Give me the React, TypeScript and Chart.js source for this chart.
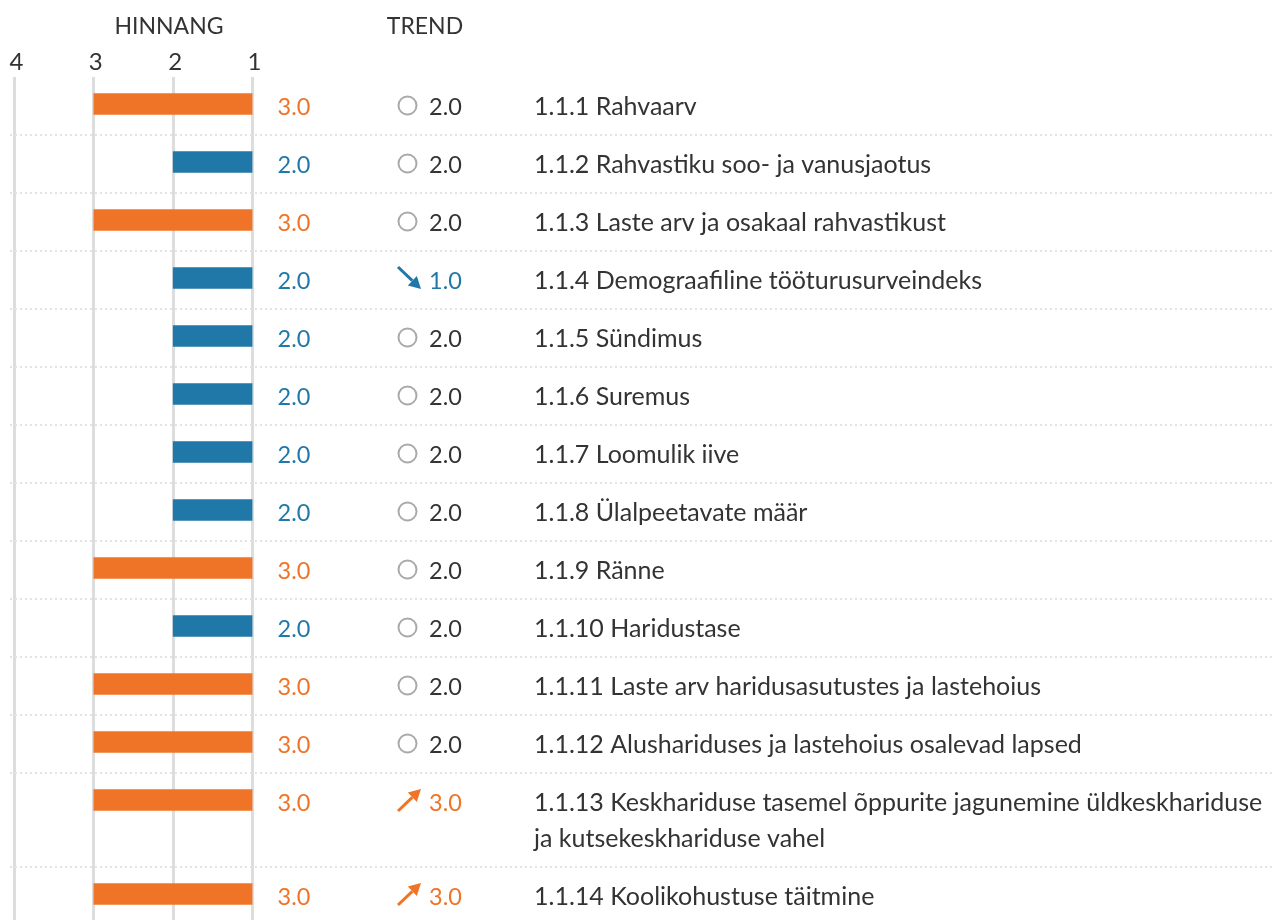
import React, { useEffect, useRef } from "react";
import { Chart, registerables } from "chart.js";

Chart.register(...registerables);

const labels: string[] = [
  "1.1.1 Rahvaarv",
  "1.1.2 Rahvastiku soo- ja vanusjaotus",
  "1.1.3 Laste arv ja osakaal rahvastikust",
  "1.1.4 Demograafiline tööturusurveindeks",
  "1.1.5 Sündimus",
  "1.1.6 Suremus",
  "1.1.7 Loomulik iive",
  "1.1.8 Ülalpeetavate määr",
  "1.1.9 Ränne",
  "1.1.10 Haridustase",
  "1.1.11 Laste arv haridusasutustes ja lastehoius",
  "1.1.12 Alushariduses ja lastehoius osalevad lapsed",
  "1.1.13 Keskhariduse tasemel õppurite jagunemine üldkeskhariduse\nja kutsekeskhariduse vahel",
  "1.1.14 Koolikohustuse täitmine",
];
const hinnang: number[] = [3, 2, 3, 2, 2, 2, 2, 2, 3, 2, 3, 3, 3, 3];
const trend: number[] = [2, 2, 2, 1, 2, 2, 2, 2, 2, 2, 2, 2, 3, 3];
const axisTicks: number[] = [4, 3, 2, 1];
const headers = { hinnang: "HINNANG", trend: "TREND" };

const ORANGE = "#F07427";
const BLUE = "#1F78A8";
const TEXT = "#333333";
const FONT = "Lato";

// layout constants (pixels)
const TOP = 77;
const HEIGHT = 920;
const PAD_ROW = 22;
const LINE_H = 36;
const BAR_OFFSET = 27;

const lineCounts = labels.map((l) => l.split("\n").length);
const rowHeights = lineCounts.map((n) => PAD_ROW + LINE_H * n);
const rowTops: number[] = [];
rowHeights.reduce((acc, h) => {
  rowTops.push(acc);
  return acc + h;
}, 0);
const rowCenters = rowTops.map((t) => t + BAR_OFFSET);

const hColor = (v: number) => (v >= 3 ? ORANGE : BLUE);

const overlayPlugin = {
  id: "overlay",
  beforeDatasetsDraw(chart: any) {
    const { ctx } = chart;
    const y = chart.scales.y;
    ctx.save();
    ctx.strokeStyle = "#e2e2e2";
    ctx.lineWidth = 2;
    ctx.setLineDash([2, 3]);
    for (let i = 1; i < rowTops.length; i++) {
      const py = Math.round(y.getPixelForValue(rowTops[i]));
      ctx.beginPath();
      ctx.moveTo(10, py);
      ctx.lineTo(chart.width, py);
      ctx.stroke();
    }
    ctx.restore();
  },
  afterDraw(chart: any) {
    const { ctx } = chart;
    const x = chart.scales.x;
    const y = chart.scales.y;
    ctx.save();
    ctx.fillStyle = TEXT;
    ctx.font = `23px ${FONT}`;
    ctx.textAlign = "center";
    ctx.textBaseline = "alphabetic";
    ctx.fillText(headers.hinnang, 169, 34);
    ctx.fillText(headers.trend, 425, 34);

    const valueX = x.getPixelForValue(1) + 25;
    const iconX = 409;
    const trendX = 429;
    const labelX = 534;
    ctx.textAlign = "left";
    for (let i = 0; i < labels.length; i++) {
      const cy = y.getPixelForValue(rowCenters[i]);
      const base = cy + 11;
      ctx.font = `23.5px ${FONT}`;
      ctx.fillStyle = hColor(hinnang[i]);
      ctx.fillText(hinnang[i].toFixed(1), valueX, base);
      const t = trend[i];
      if (t === 2) {
        ctx.strokeStyle = "#aaaaaa";
        ctx.lineWidth = 2;
        ctx.beginPath();
        ctx.arc(iconX - 1.5, cy + 1.5, 9, 0, Math.PI * 2);
        ctx.stroke();
        ctx.fillStyle = TEXT;
      } else {
        const col = t > 2 ? ORANGE : BLUE;
        const dir = t > 2 ? -1 : 1;
        const x0 = iconX - 11, x1 = iconX + 12;
        const y0 = cy - dir * 11, y1 = cy + dir * 11;
        const ang = Math.atan2(y1 - y0, x1 - x0);
        const hl = 12;
        const bx = x1 - hl * Math.cos(ang);
        const by = y1 - hl * Math.sin(ang);
        ctx.strokeStyle = col;
        ctx.lineWidth = 3;
        ctx.beginPath();
        ctx.moveTo(x0, y0);
        ctx.lineTo(bx, by);
        ctx.stroke();
        ctx.fillStyle = col;
        ctx.beginPath();
        ctx.moveTo(x1, y1);
        ctx.lineTo(bx + 6.5 * Math.sin(ang), by - 6.5 * Math.cos(ang));
        ctx.lineTo(bx - 6.5 * Math.sin(ang), by + 6.5 * Math.cos(ang));
        ctx.closePath();
        ctx.fill();
      }
      ctx.font = `23.5px ${FONT}`;
      ctx.fillText(t.toFixed(1), trendX, base);
      ctx.fillStyle = TEXT;
      ctx.font = `25px ${FONT}`;
      labels[i].split("\n").forEach((line, k) => {
        ctx.fillText(line, labelX, base + k * LINE_H);
      });
    }
    ctx.restore();
  },
};

export default function App() {
  const ref = useRef<HTMLCanvasElement | null>(null);
  useEffect(() => {
    if (!ref.current) return;
    const chart = new Chart(ref.current, {
      type: "bar",
      data: {
        datasets: [
          {
            data: hinnang.map((v, i) => ({ x: [1, v], y: rowCenters[i] })) as any,
            backgroundColor: hinnang.map(hColor),
            borderWidth: 0,
            barThickness: 21,
          },
        ],
      },
      options: {
        animation: false,
        responsive: true,
        maintainAspectRatio: false,
        indexAxis: "y",
        layout: { padding: { left: 14.5, right: 1275 - 252.5, top: 0, bottom: 0 } },
        plugins: { legend: { display: false }, tooltip: { enabled: false } },
        scales: {
          x: {
            type: "linear",
            position: "top",
            reverse: true,
            min: 1,
            max: 4,
            offset: false,
            afterBuildTicks: (s: any) => {
              s.ticks = axisTicks.map((v) => ({ value: v }));
            },
            afterFit: (s: any) => {
              s.height = TOP;
            },
            ticks: {
              font: { family: FONT, size: 24 },
              color: TEXT,
              padding: 0,
              labelOffset: 2,
            },
            grid: { color: "#dddddd", lineWidth: 3, drawTicks: false, offset: false },
            border: { display: false },
          },
          y: {
            type: "linear",
            display: false,
            reverse: true,
            offset: false,
            grid: { offset: false },
            min: 0,
            max: HEIGHT - TOP,
          },
        },
      },
      plugins: [overlayPlugin],
    });
    return () => chart.destroy();
  }, []);
  return (
    <div style={{ position: "absolute", left: 0, top: 0, width: 1275, height: 920 }}>
      <canvas ref={ref} />
    </div>
  );
}
